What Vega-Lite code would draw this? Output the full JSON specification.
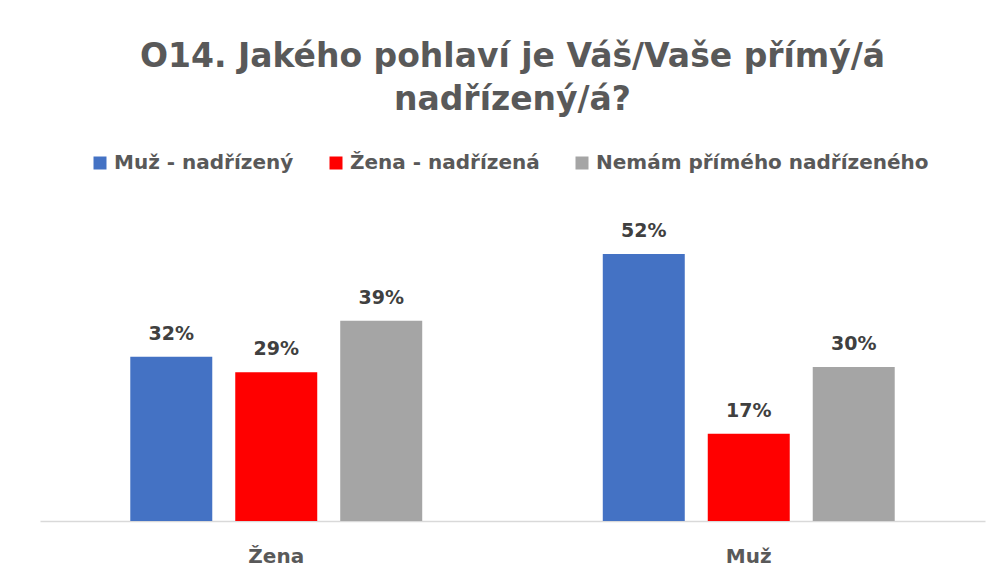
{
  "$schema": "https://vega.github.io/schema/vega-lite/v6.json",
  "width": 945,
  "height": 308,
  "autosize": {"type": "none"},
  "padding": {"left": 40, "top": 213, "right": 20, "bottom": 55},
  "background": "white",
  "title": {
    "text": ["O14. Jakého pohlaví je Váš/Vaše přímý/á", "nadřízený/á?"],
    "anchor": "middle",
    "frame": "group",
    "font": "DejaVu Sans",
    "fontSize": 33,
    "fontWeight": "bold",
    "color": "#595959",
    "lineHeight": 43,
    "offset": 36
  },
  "data": {
    "values": [
      {"pohlavi": "Žena", "odpoved": "Muž - nadřízený", "podil": 0.32},
      {"pohlavi": "Žena", "odpoved": "Žena - nadřízená", "podil": 0.29},
      {"pohlavi": "Žena", "odpoved": "Nemám přímého nadřízeného", "podil": 0.39},
      {"pohlavi": "Muž", "odpoved": "Muž - nadřízený", "podil": 0.52},
      {"pohlavi": "Muž", "odpoved": "Žena - nadřízená", "podil": 0.17},
      {"pohlavi": "Muž", "odpoved": "Nemám přímého nadřízeného", "podil": 0.30}
    ]
  },
  "encoding": {
    "x": {
      "field": "pohlavi",
      "type": "nominal",
      "sort": ["Žena", "Muž"],
      "scale": {"paddingInner": 0, "paddingOuter": 0},
      "title": null,
      "axis": {
        "labelAngle": 0,
        "labelFont": "DejaVu Sans",
        "labelFontSize": 20,
        "labelFontWeight": "bold",
        "labelColor": "#595959",
        "labelBaseline": "alphabetic",
        "labelPadding": 41,
        "ticks": false,
        "tickSize": 0,
        "domainColor": "#d9d9d9",
        "domainWidth": 1.5,
        "grid": false
      }
    },
    "xOffset": {
      "field": "odpoved",
      "type": "nominal",
      "sort": ["Muž - nadřízený", "Žena - nadřízená", "Nemám přímého nadřízeného"],
      "scale": {"paddingInner": 0.219, "paddingOuter": 0.86}
    },
    "y": {
      "field": "podil",
      "type": "quantitative",
      "scale": {"domain": [0, 0.6]},
      "axis": null
    }
  },
  "layer": [
    {
      "mark": {"type": "bar"},
      "encoding": {
        "color": {
          "field": "odpoved",
          "type": "nominal",
          "sort": ["Muž - nadřízený", "Žena - nadřízená", "Nemám přímého nadřízeného"],
          "scale": {
            "domain": ["Muž - nadřízený", "Žena - nadřízená", "Nemám přímého nadřízeného"],
            "range": ["#4472C4", "#FF0000", "#A5A5A5"]
          },
          "legend": {
            "title": null,
            "orient": "none",
            "legendX": 50,
            "legendY": -60,
            "direction": "horizontal",
            "symbolType": "square",
            "symbolSize": 169,
            "symbolStrokeWidth": 0,
            "labelFont": "DejaVu Sans",
            "labelFontSize": 20,
            "labelFontWeight": "bold",
            "labelColor": "#595959",
            "labelOffset": 4,
            "columnPadding": 32,
            "labelLimit": 400
          }
        }
      }
    },
    {
      "mark": {
        "type": "text",
        "dy": -17,
        "baseline": "alphabetic",
        "font": "DejaVu Sans",
        "fontSize": 19,
        "fontWeight": "bold",
        "color": "#404040"
      },
      "encoding": {
        "text": {"field": "podil", "type": "quantitative", "format": ".0%"}
      }
    }
  ],
  "config": {"view": {"stroke": null}}
}
